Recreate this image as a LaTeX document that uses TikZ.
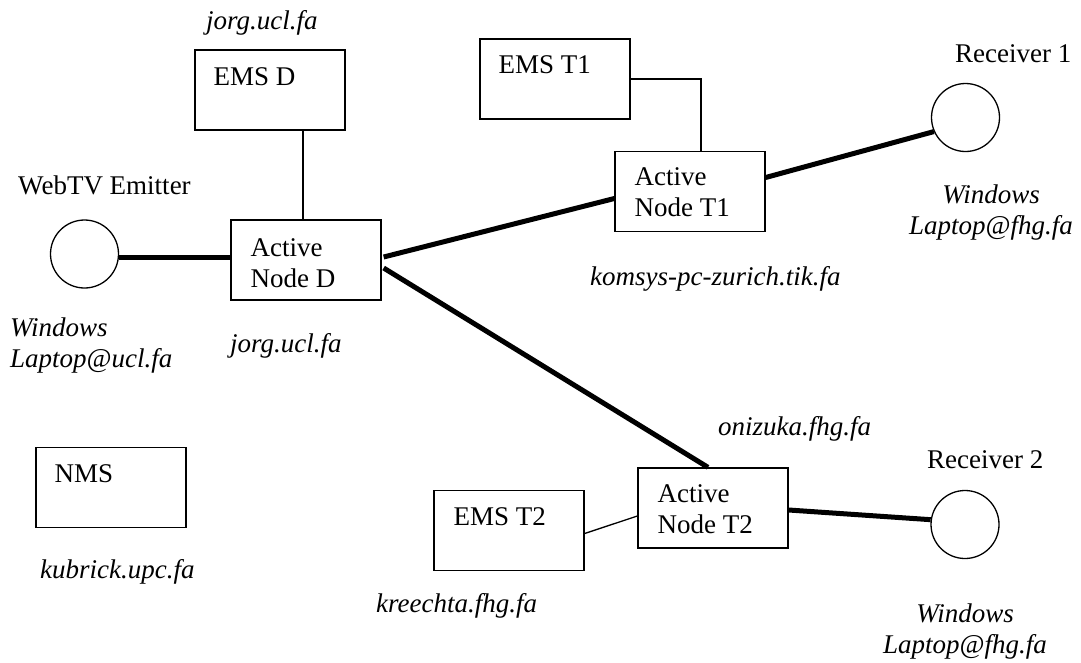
\documentclass[tikz,border=0pt]{standalone}
\usepackage{fontspec}
\setmainfont{Liberation Serif}
\begin{document}
\begin{tikzpicture}[x=1pt,y=-1pt,
  txt/.style={inner sep=0pt,font={\fontsize{27pt}{31pt}\selectfont}},
  lbl/.style={txt,anchor=base west,align=left},
  host/.style={txt,anchor=base west,align=left,font={\fontsize{27pt}{31pt}\selectfont\itshape}},
  hostc/.style={txt,anchor=base,align=center,font={\fontsize{27pt}{31pt}\selectfont\itshape}},
  box/.style={draw,line width=1.3pt,minimum width=150pt,minimum height=80pt,inner sep=0pt},
  pc/.style={draw,circle,line width=1.3pt,minimum size=68pt,inner sep=0pt},
  thin/.style={line width=1.3pt},
  trunk/.style={line width=5pt}]
\useasboundingbox (0,0) rectangle (1081,662);

% management and active node boxes
\node[box] (emsd) at (270,90) {};
\node[box] (andd) at (306,260) {};
\node[box] (emst1) at (555,79) {};
\node[box] (ant1) at (690,191.5) {};
\node[box] (nms) at (111,487.5) {};
\node[box] (emst2) at (509,530.5) {};
\node[box] (ant2) at (713,508) {};

% end hosts
\node[pc] (webtv) at (84.5,254) {};
\node[pc] (r1) at (965.5,117.5) {};
\node[pc] (r2) at (965,524.5) {};

% box captions (two-line captions are placed by their last baseline)
\node[lbl] (emsd-t) at ([xshift=19pt,yshift=-36pt]emsd.north west) {EMS D};
\node[lbl] (andd-t) at ([xshift=20pt,yshift=-68pt]andd.north west) {Active\\Node D};
\node[lbl] (emst1-t) at ([xshift=19pt,yshift=-35pt]emst1.north west) {EMS T1};
\node[lbl] (ant1-t) at ([xshift=20pt,yshift=-66pt]ant1.north west) {Active\\Node T1};
\node[lbl] (nms-t) at ([xshift=19pt,yshift=-36pt]nms.north west) {NMS};
\node[lbl] (emst2-t) at ([xshift=20pt,yshift=-36pt]emst2.north west) {EMS T2};
\node[lbl] (ant2-t) at ([xshift=20pt,yshift=-66pt]ant2.north west) {Active\\Node T2};

% role names
\node[lbl] (webtv-t) at (18,194) {WebTV Emitter};
\node[lbl] (r1-t) at (955,62) {Receiver 1};
\node[lbl] (r2-t) at (927,468) {Receiver 2};

% host names
\node[host] (h-emsd) at (206,29) {jorg.ucl.fa};
\node[host] (h-andd) at (230,352) {jorg.ucl.fa};
\node[host] (h-webtv) at (10,367) {Windows\\Laptop@ucl.fa};
\node[host] (h-ant1) at (590,285) {komsys-pc-zurich.tik.fa};
\node[hostc] (h-r1) at (991,234) {Windows\\Laptop@fhg.fa};
\node[host] (h-ant2) at (718,435) {onizuka.fhg.fa};
\node[host] (h-emst2) at (376,612) {kreechta.fhg.fa};
\node[host] (h-nms) at (40,578) {kubrick.upc.fa};
\node[hostc] (h-r2) at (965,653) {Windows\\Laptop@fhg.fa};

% management links
\draw[thin] ([xshift=-3pt]andd.north) -- ([xshift=-3pt]andd.north |- emsd.south);
\draw[thin] (emst1.east) -| ([xshift=11pt]ant1.north);
\draw[thin] ([yshift=-3pt]emst2.east) -- ([yshift=-8pt]ant2.west);

% data path
\draw[trunk] ([yshift=-3pt]webtv.east) -- ([yshift=-3pt]webtv.east -| andd.west);
\draw[trunk] ([xshift=2pt,yshift=3pt]andd.east) -- ([yshift=-7pt]ant1.west);
\draw[trunk] ([xshift=2pt,yshift=-8pt]andd.east) -- ([xshift=-5pt]ant2.north);
\draw[trunk] ([yshift=14pt]ant1.east) -- (r1.204);
\draw[trunk] ([yshift=-2pt]ant2.east) -- (r2.172);
\end{tikzpicture}
\end{document}
